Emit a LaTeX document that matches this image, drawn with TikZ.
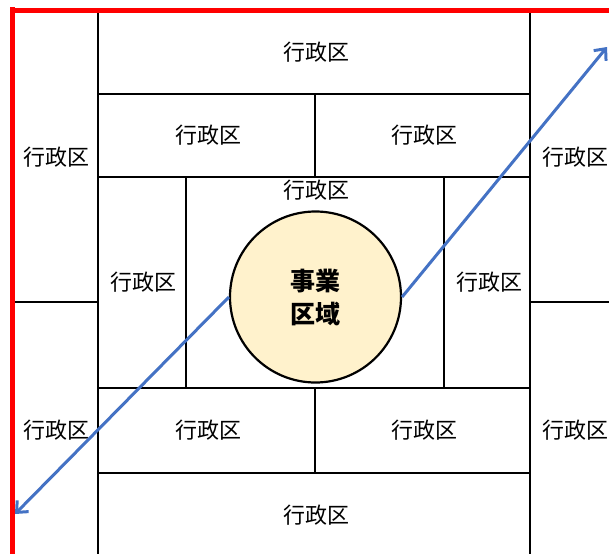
\documentclass[tikz,border=0pt]{standalone}
\usepackage{fontspec}
\setmainfont{Noto Sans CJK JP}
\usetikzlibrary{arrows.meta}
\definecolor{arrowblue}{HTML}{4472C4}
\definecolor{circfill}{HTML}{FFF2CC}
\tikzset{
  wall/.style={line width=2.8pt,black},
  redwall/.style={line width=5pt,red},
  lbl/.style={font=\fontsize{22}{26}\selectfont,inner sep=0pt},
  span/.style={line width=3pt,arrowblue,-{Straight Barb[length=9pt,width=16pt,line width=3pt]}},
  site/.style={circle,draw=black,line width=2.2pt,fill=circfill,minimum size=171pt,inner sep=0pt,align=center,font=\fontsize{25}{33}\selectfont\bfseries}
}
\begin{document}
\begin{tikzpicture}[x=1pt,y=-1pt]
\useasboundingbox (0,0) rectangle (609,554);
% black grid
\draw[wall] (98,10) -- (98,554);
\draw[wall] (530,10) -- (530,554);
\draw[wall] (12,302) -- (98,302);
\draw[wall] (530,302) -- (609,302);
\draw[wall] (98,94) -- (530,94);
\draw[wall] (98,177) -- (530,177);
\draw[wall] (98,388) -- (530,388);
\draw[wall] (98,473) -- (530,473);
\draw[wall] (315,94) -- (315,177);
\draw[wall] (315,388) -- (315,473);
\draw[wall] (186,177) -- (186,388);
\draw[wall] (444,177) -- (444,388);
% red boundary
\draw[redwall] (12.5,7) -- (12.5,554);
\draw[redwall] (10,10.5) -- (609,10.5);
% labels
\node[lbl] (t1) at (316,52) {行政区};
\node[lbl] (t2a) at (208,135) {行政区};
\node[lbl] (t2b) at (424,135) {行政区};
\node[lbl] (mid) at (316,190) {行政区};
\node[lbl] (ml) at (143,282) {行政区};
\node[lbl] (mr) at (489,282) {行政区};
\node[lbl] (b2a) at (208,430) {行政区};
\node[lbl] (b2b) at (424,430) {行政区};
\node[lbl] (b1) at (316,515) {行政区};
\node[lbl] (l1) at (56,157) {行政区};
\node[lbl] (l2) at (56,430) {行政区};
\node[lbl] (r1) at (575,157) {行政区};
\node[lbl] (r2) at (575,430) {行政区};
% site
\node[site] (site) at (315.5,297) {事業\\区域};
% arrows
\coordinate (pa) at (15,514);
\coordinate (pb) at (607,47);
\draw[span] (site.west) -- (pa);
\draw[span] (site.east) -- (pb);
\end{tikzpicture}
\end{document}
